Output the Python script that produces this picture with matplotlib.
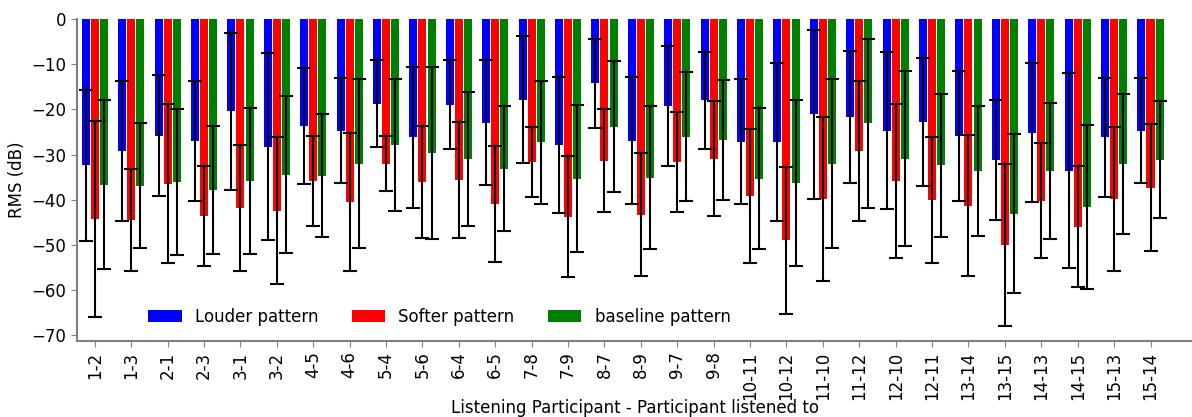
import numpy as np
import matplotlib
matplotlib.use('Agg')
from matplotlib import pyplot as plt

# pair labels (listening participant - participant listened to)
pairs = ['1-2', '1-3', '2-1', '2-3', '3-1', '3-2', '4-5', '4-6', '5-4', '5-6',
         '6-4', '6-5', '7-8', '7-9', '8-7', '8-9', '9-7', '9-8', '10-11', '10-12',
         '11-10', '11-12', '12-10', '12-11', '13-14', '13-15', '14-13', '14-15', '15-13', '15-14']

# mean RMS (dB) and standard deviation for each pattern
louder_mean = [-32.4, -29.2, -25.8, -26.9, -20.4, -28.2, -23.6, -24.7, -18.7, -26.2,
               -18.9, -22.9, -17.8, -27.8, -14.2, -26.9, -19.3, -18.0, -27.1, -27.1,
               -21.1, -21.6, -24.7, -22.7, -25.8, -31.1, -25.1, -33.6, -26.2, -24.7]
louder_std = [16.8, 15.6, 13.4, 13.3, 17.4, 20.6, 12.8, 11.6, 9.6, 15.6,
              9.9, 13.8, 14.1, 15.1, 9.8, 14.1, 13.3, 10.7, 13.8, 17.5,
              18.7, 14.6, 17.4, 14.2, 14.4, 13.3, 15.5, 21.6, 13.1, 11.6]

softer_mean = [-44.2, -44.4, -36.4, -43.6, -41.8, -42.4, -35.8, -40.4, -32.0, -36.0,
               -35.6, -40.9, -31.6, -43.8, -31.3, -43.3, -31.6, -30.9, -39.1, -49.0,
               -39.8, -29.1, -35.8, -40.0, -41.3, -50.0, -40.2, -46.0, -39.8, -37.3]
softer_std = [21.7, 11.3, 17.6, 11.1, 14.0, 16.2, 10.0, 15.3, 6.1, 12.4,
              12.8, 12.9, 7.8, 13.4, 11.3, 13.6, 11.1, 12.8, 14.8, 16.3,
              18.1, 15.5, 17.1, 13.9, 15.6, 18.0, 12.7, 13.4, 16.0, 14.0]

baseline_mean = [-36.7, -36.9, -36.0, -37.8, -35.8, -34.4, -34.7, -32.0, -27.8, -29.6,
                 -30.9, -33.1, -27.3, -35.3, -23.8, -35.1, -26.0, -26.7, -35.3, -36.2,
                 -32.0, -23.1, -30.9, -32.4, -33.6, -43.1, -33.6, -41.6, -32.0, -31.1]
baseline_std = [18.7, 13.8, 16.2, 14.1, 16.2, 17.4, 13.6, 18.7, 14.6, 19.1,
                14.8, 13.9, 13.7, 16.3, 14.5, 15.9, 14.2, 13.3, 15.6, 18.4,
                18.7, 18.8, 19.4, 15.9, 14.4, 17.6, 15.0, 18.2, 15.5, 13.0]

x = np.arange(len(pairs))
w = 0.25

fig = plt.figure(figsize=(11.92, 4.17), dpi=100)
ax = fig.add_axes([0.0646, 0.182, 0.9354, 0.772])

err_kw = dict(ecolor='black', elinewidth=1.5, capsize=5, capthick=1.5)
ax.bar(x - w, louder_mean, 0.22, yerr=louder_std, color='blue', label='Louder pattern', error_kw=err_kw)
ax.bar(x, softer_mean, 0.22, yerr=softer_std, color='red', label='Softer pattern', error_kw=err_kw)
ax.bar(x + w, baseline_mean, 0.22, yerr=baseline_std, color='green', label='baseline pattern', error_kw=err_kw)

ax.set_xlim(-0.49, 30.14)
ax.set_ylim(-71.3, 0)
ax.set_xticks(x)
ax.set_xticklabels(pairs, rotation=90, fontsize=12)
ax.tick_params(axis='y', labelsize=12)
ax.tick_params(colors='gray', labelcolor='black', length=4)
ax.spines['top'].set_visible(False)
ax.spines['right'].set_visible(False)
ax.spines['left'].set_color('gray')
ax.spines['bottom'].set_color('gray')
ax.spines['left'].set_linewidth(1.5)
ax.spines['bottom'].set_linewidth(1.5)

ax.set_ylabel('RMS (dB)', fontsize=12)
ax.set_xlabel('Listening Participant - Participant listened to', fontsize=12, labelpad=-1)

ax.legend(loc='lower left', bbox_to_anchor=(0.0505, 0.0), ncol=3, frameon=False, fontsize=12)

fig.savefig('out.png', dpi=100)
